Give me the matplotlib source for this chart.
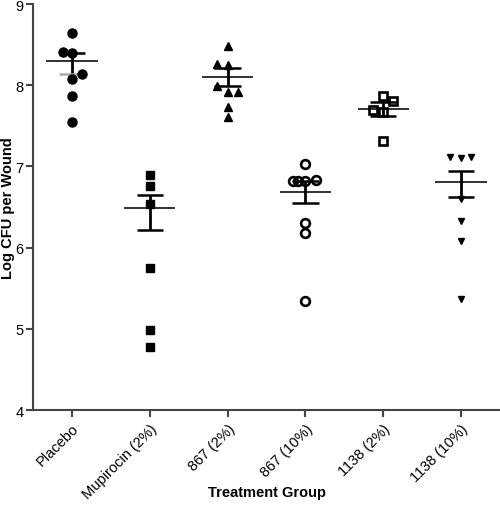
import matplotlib
matplotlib.use('Agg')
import matplotlib.pyplot as plt

plt.rcParams['font.family'] = ['Liberation Sans', 'DejaVu Sans']

groups = ['Placebo', 'Mupirocin (2%)', '867 (2%)', '867 (10%)', '1138 (2%)', '1138 (10%)']

# individual wounds (log CFU) and small horizontal spread of the dots
placebo = [8.65, 8.41, 8.40, 8.14, 8.08, 7.87, 7.55]
placebo_dx = [0, -0.12, 0, 0.13, 0, 0, 0]
mupirocin = [6.90, 6.76, 6.54, 5.75, 4.99, 4.78]
mupirocin_dx = [0, 0, 0, 0, 0, 0]
c867_2 = [8.49, 8.26, 8.25, 7.99, 7.92, 7.92, 7.73, 7.61]
c867_2_dx = [0, -0.13, 0, -0.13, 0, 0.13, 0, 0]
c867_10 = [7.03, 6.82, 6.82, 6.82, 6.83, 6.31, 6.18, 5.34]
c867_10_dx = [0, -0.16, -0.09, 0, 0.13, 0, 0, 0]
c1138_2 = [7.87, 7.81, 7.69, 7.67, 7.32]
c1138_2_dx = [0, 0.12, -0.13, 0, 0]
c1138_10 = [7.12, 7.10, 7.12, 6.60, 6.33, 6.08, 5.37]
c1138_10_dx = [-0.14, 0, 0.13, 0, 0, 0, 0]

# mean and SEM bar ends
means = [8.30, 6.49, 8.10, 6.685, 7.71, 6.81]
sem_hi = [8.40, 6.645, 8.21, 6.82, 7.80, 6.94]
sem_lo = [8.14, 6.22, 7.99, 6.55, 7.62, 6.62]

data = [placebo, mupirocin, c867_2, c867_10, c1138_2, c1138_10]
spread = [placebo_dx, mupirocin_dx, c867_2_dx, c867_10_dx, c1138_2_dx, c1138_10_dx]
styles = [dict(marker='o', ms=6.5, mfc='black', mec='black'),
          dict(marker='s', ms=5.8, mfc='black', mec='black'),
          dict(marker='^', ms=5.2, mfc='black', mec='black'),
          dict(marker='o', ms=6.3, mfc='none', mec='black', mew=1.9),
          dict(marker='s', ms=6.0, mfc='none', mec='black', mew=1.9),
          dict(marker='v', ms=4.6, mfc='black', mec='black')]
low_cap_col = ['#aaaaaa', 'black', 'black', 'black', 'black', 'black']

fig = plt.figure(figsize=(5, 5.1), dpi=100)
ax = fig.add_axes([0.066, 0.194, 0.934, 0.796])

for i in range(len(groups)):
    x = i + 1
    ax.hlines(means[i], x - 0.33, x + 0.33, color='#222222', lw=1.3, zorder=2)
    ax.vlines(x, sem_lo[i], sem_hi[i], color='black', lw=2, zorder=2)
    ax.hlines(sem_hi[i], x - 0.17, x + 0.17, color='black', lw=1.8, zorder=2)
    ax.hlines(sem_lo[i], x - 0.17, x + 0.17, color=low_cap_col[i], lw=1.8, zorder=2)
    xs = [x + d for d in spread[i]]
    ax.plot(xs, data[i], ls='none', zorder=3, **styles[i])

ax.set_xlim(0.5, 6.5)
ax.set_ylim(4, 9)
ax.set_yticks([4, 5, 6, 7, 8, 9])
ax.set_xticks(range(1, 7))
ax.set_xticklabels(groups, rotation=45, ha='right', rotation_mode='anchor', fontsize=10.5)
ax.tick_params(axis='y', labelsize=10.5, length=5, width=1.5, color='#444444', pad=2)
ax.tick_params(axis='x', length=5, width=1.5, color='#444444', pad=3)
ax.spines['top'].set_visible(False)
ax.spines['right'].set_visible(False)
for s in ['left', 'bottom']:
    ax.spines[s].set_color('#444444')
    ax.spines[s].set_linewidth(1.5)

ax.set_ylabel('Log CFU per Wound', fontsize=10.5, fontweight='bold', va='center')
ax.yaxis.set_label_coords(-0.054, 0.5)
ax.set_xlabel('Treatment Group', fontsize=10.5, fontweight='bold', va='center')
ax.xaxis.set_label_coords(0.5, -0.202)

fig.savefig('out.png', dpi=100)
